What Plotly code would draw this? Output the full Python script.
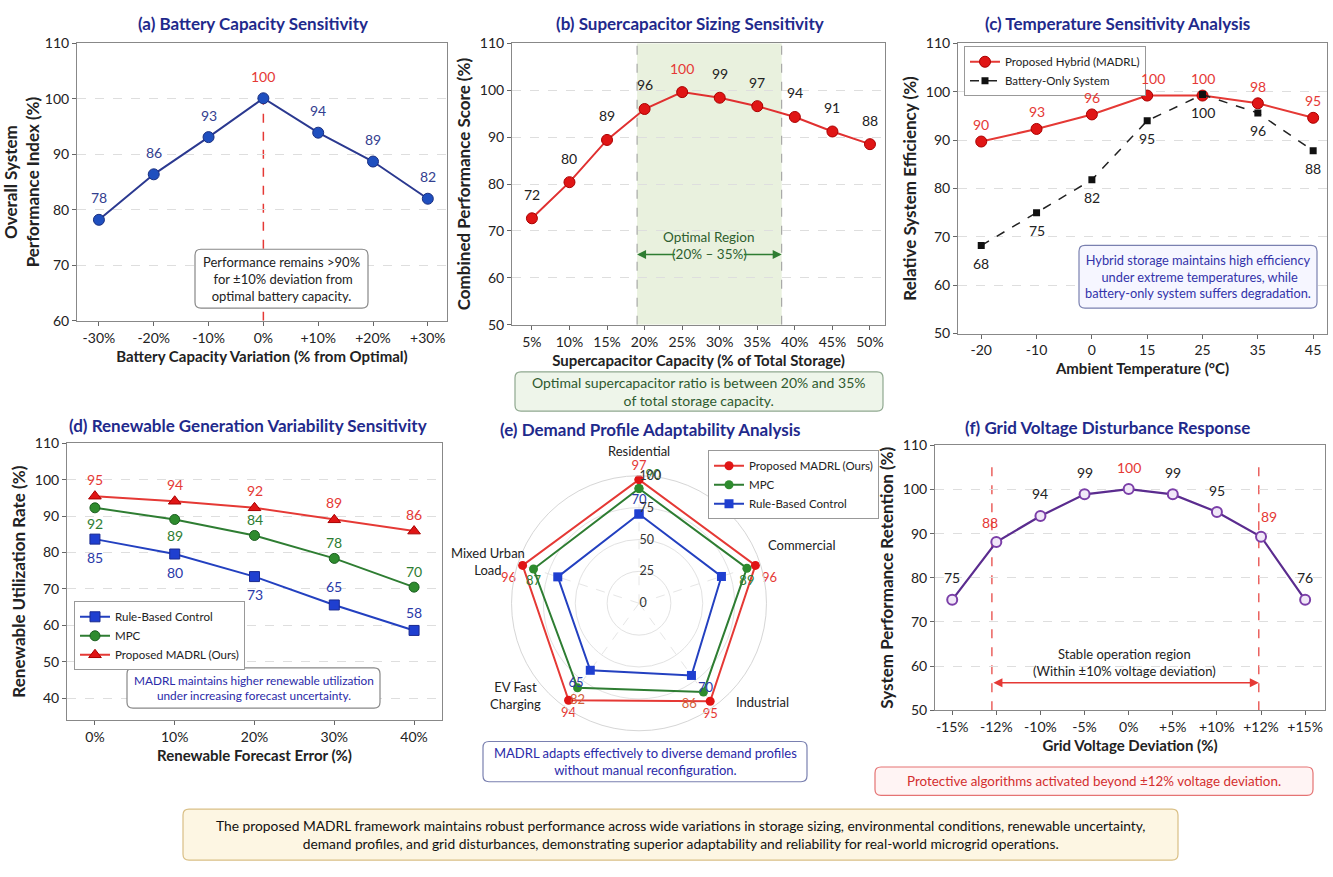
import plotly.graph_objects as go

W, H = 1333, 877
def PX(x): return x / W
def PY(y): return 1 - y / H

FONT = "Lato"
TITLE_C = "#1f2a8c"

# ---------------- data ----------------
a_x = ["-30%", "-20%", "-10%", "0%", "+10%", "+20%", "+30%"]
a_y = [78.2, 86.4, 93.1, 100.1, 93.9, 88.7, 82.0]
a_lbl = ["78", "86", "93", "100", "94", "89", "82"]

b_x = ["5%", "10%", "15%", "20%", "25%", "30%", "35%", "40%", "45%", "50%"]
b_y = [72.7, 80.4, 89.4, 96.0, 99.6, 98.4, 96.6, 94.3, 91.2, 88.5]
b_lbl = ["72", "80", "89", "96", "100", "99", "97", "94", "91", "88"]

c_x = ["-20", "-10", "0", "15", "25", "35", "45"]
c_hyb = [89.7, 92.3, 95.3, 99.2, 99.2, 97.6, 94.6]
c_hyb_lbl = ["90", "93", "96", "100", "100", "98", "95"]
c_bat = [68.2, 75.0, 81.8, 94.0, 99.4, 95.6, 87.8]
c_bat_lbl = ["68", "75", "82", "95", "100", "96", "88"]

d_x = ["0%", "10%", "20%", "30%", "40%"]
d_rule = [83.7, 79.6, 73.4, 65.6, 58.6]
d_rule_lbl = ["85", "80", "73", "65", "58"]
d_mpc = [92.3, 89.1, 84.7, 78.4, 70.5]
d_mpc_lbl = ["92", "89", "84", "78", "70"]
d_madrl = [95.5, 94.1, 92.3, 89.0, 85.9]
d_madrl_lbl = ["95", "94", "92", "89", "86"]

e_cat = ["Residential", "Commercial", "Industrial", "EV Fast<br>Charging", "Mixed Urban<br>Load"]
e_madrl = [97, 96, 95, 94, 96]
e_mpc = [90, 89, 86, 82, 87]
e_rule = [70, 68, 70, 65, 67]
e_madrl_lbl = ["97", "96", "95", "94", "96"]
e_mpc_lbl = ["90", "89", "86", "82", "87"]
e_rule_lbl = ["70", "", "70", "65", ""]

f_x = ["-15%", "-12%", "-10%", "-5%", "0%", "+5%", "+10%", "+12%", "+15%"]
f_y = [75.0, 88.1, 94.0, 98.9, 100.1, 98.9, 94.9, 89.3, 75.0]
f_lbl = ["75", "88", "94", "99", "100", "99", "95", "89", "76"]

RED = "#e53935"
BLUE_A = "#2b3990"
GREEN = "#2e7d32"
BLUE_D = "#2340c0"
PURPLE = "#5b2c8f"

fig = go.Figure()
ann = []
shapes = []

def pann(x, y, text, **kw):
    d = dict(x=PX(x), y=PY(y), xref="paper", yref="paper", showarrow=False, text=text,
             xanchor="center", yanchor="middle")
    d.update(kw)
    ann.append(d)

def dann(i, y, text, xr, yr, **kw):
    d = dict(x=i, y=y, xref=xr, yref=yr, showarrow=False, text=text, xanchor="center",
             yanchor="middle")
    d.update(kw)
    ann.append(d)

def rbox(x0, y0, x1, y1, fill, line, r=6):
    rx, ry = r / W, r / H
    X0, X1 = PX(x0), PX(x1)
    Yt, Yb = PY(y0), PY(y1)
    path = (f"M {X0+rx},{Yt} L {X1-rx},{Yt} Q {X1},{Yt} {X1},{Yt-ry} "
            f"L {X1},{Yb+ry} Q {X1},{Yb} {X1-rx},{Yb} L {X0+rx},{Yb} Q {X0},{Yb} {X0},{Yb+ry} "
            f"L {X0},{Yt-ry} Q {X0},{Yt} {X0+rx},{Yt} Z")
    shapes.append(dict(type="path", xref="paper", yref="paper", path=path, fillcolor=fill,
                       line=dict(color=line, width=1.2), layer="above"))

def textbox(x0, y0, x1, y1, text, size, color, fill, line):
    rbox(x0, y0, x1, y1, fill, line)
    pann((x0 + x1) / 2, (y0 + y1) / 2, text, font=dict(size=size, color=color))

# ---------------- (a) ----------------
fig.add_trace(go.Scatter(x=a_x, y=a_y, mode="lines+markers", xaxis="x", yaxis="y",
    line=dict(color=BLUE_A, width=2),
    marker=dict(size=11, color="#1f4fbf", line=dict(color="#1a2f80", width=1)), showlegend=False))
for i, (yv, t) in enumerate(zip(a_y, a_lbl)):
    dann(i, yv, t, "x", "y", yshift=22, font=dict(size=14, color=RED if t == "100" else "#33408f"))
shapes.append(dict(type="line", xref="x", yref="y", x0=3, x1=3, y0=60, y1=100,
                   line=dict(color=RED, width=1.5, dash="dash"), layer="below"))
textbox(195, 245, 368, 305, "Performance remains >90%<br> for ±10% deviation from<br>optimal battery capacity.",
        13, "#222", "white", "#888")

# ---------------- (b) ----------------
shapes.append(dict(type="rect", xref="x2", yref="y2", x0=2.8, x1=6.65, y0=50, y1=110,
                   fillcolor="#e9f1de", line=dict(width=0), layer="below"))
for xv in (2.8, 6.65):
    shapes.append(dict(type="line", xref="x2", yref="y2", x0=xv, x1=xv, y0=50, y1=110,
                       line=dict(color="#999", width=1, dash="dash"), layer="below"))
fig.add_trace(go.Scatter(x=b_x, y=b_y, mode="lines+markers", xaxis="x2", yaxis="y2",
    line=dict(color="#e03030", width=2),
    marker=dict(size=11, color="#e01515", line=dict(color="#a00", width=1)), showlegend=False))
for i, (yv, t) in enumerate(zip(b_y, b_lbl)):
    dann(i, yv, t, "x2", "y2", yshift=24, font=dict(size=14, color=RED if t == "100" else "#222"))
dann(4.72, 68.8, "Optimal Region", "x2", "y2", font=dict(size=13.5, color="#2e5e2e"))
dann(4.72, 65, "(20% – 35%)", "x2", "y2", font=dict(size=13.5, color="#2e5e2e"))
for head, tail in ((2.8, 3.85), (6.65, 5.6)):
    ann.append(dict(x=head, y=65, ax=tail, ay=65, xref="x2", yref="y2", axref="x2", ayref="y2",
                    text="", showarrow=True, arrowhead=2, arrowsize=1.2, arrowwidth=1.5,
                    arrowcolor="#2e7d32"))
textbox(515, 370, 883, 410, "Optimal supercapacitor ratio is between 20% and 35%<br>of total storage capacity.",
        14, "#2f5a2f", "#eef5ea", "#8fa88f")

# ---------------- (c) ----------------
fig.add_trace(go.Scatter(x=c_x, y=c_hyb, mode="lines+markers", xaxis="x3", yaxis="y3",
    name="Proposed Hybrid (MADRL)", legend="legend",
    line=dict(color=RED, width=2),
    marker=dict(size=11, color="#e01515", line=dict(color="#a00", width=1))))
fig.add_trace(go.Scatter(x=c_x, y=c_bat, mode="lines+markers", xaxis="x3", yaxis="y3",
    name="Battery-Only System", legend="legend",
    line=dict(color="#222", width=1.5, dash="dash"),
    marker=dict(size=7, symbol="square", color="#111")))
for i, (yv, t) in enumerate(zip(c_hyb, c_hyb_lbl)):
    dann(i, yv, t, "x3", "y3", yshift=17, xshift=(6 if i == 3 else 0), font=dict(size=14, color=RED))
for i, (yv, t) in enumerate(zip(c_bat, c_bat_lbl)):
    dann(i, yv, t, "x3", "y3", yshift=-18, font=dict(size=14, color="#222"))
textbox(1079, 241, 1317, 305, "Hybrid storage maintains high efficiency<br> under extreme temperatures, while<br>battery-only system suffers degradation.",
        12.8, "#3333aa", "#f6f6ff", "#7a80b0")

# ---------------- (d) ----------------
fig.add_trace(go.Scatter(x=d_x, y=d_rule, mode="lines+markers", xaxis="x4", yaxis="y4",
    name="Rule-Based Control", legend="legend2",
    line=dict(color=BLUE_D, width=2),
    marker=dict(size=10, symbol="square", color="#1f3fd0", line=dict(color="#1a2a90", width=1))))
fig.add_trace(go.Scatter(x=d_x, y=d_mpc, mode="lines+markers", xaxis="x4", yaxis="y4",
    name="MPC", legend="legend2",
    line=dict(color=GREEN, width=2),
    marker=dict(size=10, color="#2e8b2e", line=dict(color="#1b5e20", width=1))))
fig.add_trace(go.Scatter(x=d_x, y=d_madrl, mode="lines+markers", xaxis="x4", yaxis="y4",
    name="Proposed MADRL (Ours)", legend="legend2",
    line=dict(color=RED, width=2),
    marker=dict(size=11, symbol="triangle-up", color="#e01515", line=dict(color="#a00", width=1))))
rule_shift = [-18, -18, -18, 18, 18]
mpc_shift = [-16, -16, 16, 16, 16]
for i, (yv, t) in enumerate(zip(d_madrl, d_madrl_lbl)):
    dann(i, yv, t, "x4", "y4", yshift=17, font=dict(size=14, color=RED))
for i, (yv, t, s) in enumerate(zip(d_mpc, d_mpc_lbl, mpc_shift)):
    dann(i, yv, t, "x4", "y4", yshift=s, font=dict(size=14, color=GREEN))
for i, (yv, t, s) in enumerate(zip(d_rule, d_rule_lbl, rule_shift)):
    dann(i, yv, t, "x4", "y4", yshift=s, font=dict(size=14, color="#2a3aa8"))
textbox(127, 672, 380, 713, "MADRL maintains higher renewable utilization<br>under increasing forecast uncertainty.",
        11.8, "#2a2aa8", "white", "#888")

# ---------------- (e) ----------------
def closed(v): return list(v) + [v[0]]
fig.add_trace(go.Scatterpolar(r=closed(e_madrl), theta=closed(e_cat), mode="lines+markers+text",
    name="Proposed MADRL (Ours)", legend="legend3", subplot="polar",
    text=list(e_madrl_lbl) + [""],
    textposition=["top center", "bottom right", "bottom center", "bottom center", "bottom left", "top center"],
    textfont=dict(size=13, color=RED),
    line=dict(color=RED, width=2), marker=dict(size=9, color="#e01515")))
fig.add_trace(go.Scatterpolar(r=closed(e_mpc), theta=closed(e_cat), mode="lines+markers+text",
    name="MPC", legend="legend3", subplot="polar",
    text=list(e_mpc_lbl) + [""],
    textposition=["top right", "bottom center", "bottom left", "bottom center", "bottom center", "top center"],
    textfont=dict(size=13, color=["#2e7d32", "#2e7d32", "#d2603a", "#d2603a", "#2e7d32", "#2e7d32"]),
    line=dict(color=GREEN, width=2), marker=dict(size=9, color="#2e8b2e")))
fig.add_trace(go.Scatterpolar(r=closed(e_rule), theta=closed(e_cat), mode="lines+markers+text",
    name="Rule-Based Control", legend="legend3", subplot="polar",
    text=list(e_rule_lbl) + [""],
    textposition=["top center", "bottom center", "bottom right", "bottom left", "bottom center", "top center"],
    textfont=dict(size=13, color="#2a3aa8"),
    line=dict(color=BLUE_D, width=2), marker=dict(size=9, symbol="square", color="#1f3fd0")))
cat_pos = [(639, 451), (802, 547), (762, 707), (515, 700), (488, 563)]
for t, (x, y) in zip(e_cat, cat_pos):
    pann(x, y, t, font=dict(size=13, color="#222"))
textbox(483, 747, 807, 788, "MADRL adapts effectively to diverse demand profiles<br>without manual reconfiguration.",
        13, "#2a2aa8", "white", "#7a80b0")

# ---------------- (f) ----------------
for xv in (0.9, 6.95):
    shapes.append(dict(type="line", xref="x5", yref="y5", x0=xv, x1=xv, y0=50, y1=106,
                       line=dict(color=RED, width=1.2, dash="dash"), layer="below"))
fig.add_trace(go.Scatter(x=f_x, y=f_y, mode="lines+markers", xaxis="x5", yaxis="y5",
    line=dict(color=PURPLE, width=2.2),
    marker=dict(size=10, color="#f1e8f8", line=dict(color="#7b3fa8", width=2)), showlegend=False))
for i, (yv, t) in enumerate(zip(f_y, f_lbl)):
    red = t == "100" or i in (1, 7)
    dann(i, yv, t, "x5", "y5", yshift=22 if i not in (1, 7) else 20,
         xshift=0 if i not in (1, 7) else (-6 if i == 1 else 8),
         font=dict(size=14, color=RED if red else "#222"))
dann(3.9, 60.8, "Stable operation region<br>(Within ±10% voltage deviation)", "x5", "y5",
     font=dict(size=13, color="#222"))
ann.append(dict(x=6.95, y=56.2, ax=0.9, ay=56.2, xref="x5", yref="y5", axref="x5", ayref="y5",
    text="", showarrow=True, arrowhead=2, arrowside="end+start", arrowsize=1.2, arrowwidth=1.5,
    arrowcolor="#e53935"))
textbox(875, 773, 1313, 802, "Protective algorithms activated beyond ±12% voltage deviation.",
        13.4, "#d32f2f", "#fff4f4", "#e57373")

# ---------------- titles ----------------
titles = [
    ("(a) Battery Capacity Sensitivity", 253, 15),
    ("(b) Supercapacitor Sizing Sensitivity", 690, 15),
    ("(c) Temperature Sensitivity Analysis", 1117, 15),
    ("(d) Renewable Generation Variability Sensitivity", 248, 425),
    ("(e) Demand Profile Adaptability Analysis", 650, 429),
    ("(f) Grid Voltage Disturbance Response", 1107, 427),
]
for t, x, y in titles:
    pann(x, y, "<b>" + t + "</b>", font=dict(size=17, color=TITLE_C))

# ---------------- banner ----------------
textbox(183, 816, 1178, 868, "The proposed MADRL framework maintains robust performance across wide variations in storage sizing, environmental conditions, renewable uncertainty,<br>demand profiles, and grid disturbances, demonstrating superior adaptability and reliability for real-world microgrid operations.",
        13.8, "#111", "#fdf6e3", "#d9bf85")

# ---------------- axes ----------------
def xax(cats, dom, rng, title, anchor):
    return dict(domain=dom, anchor=anchor, type="category", categoryorder="array", categoryarray=cats,
                range=rng, showgrid=False, showline=True, mirror=True, linecolor="#888", linewidth=1,
                ticks="outside", ticklen=4, tickcolor="#666", tickfont=dict(size=14, color="#222"),
                title=dict(text="<b>" + title + "</b>", font=dict(size=15, color="#222"), standoff=6),
                zeroline=False)

def yax(dom, rng, title, anchor, dtick=10):
    return dict(domain=dom, anchor=anchor, range=rng, dtick=dtick, tick0=0, showgrid=True,
                gridcolor="#dedede", griddash="dash", showline=True, mirror=True, linecolor="#888",
                linewidth=1, ticks="outside", ticklen=4, tickcolor="#666",
                tickfont=dict(size=14, color="#222"),
                title=dict(text="<b>" + title + "</b>", font=dict(size=17, color="#222"), standoff=4),
                zeroline=False)

layout = dict(
    width=W, height=H, margin=dict(l=0, r=0, t=0, b=0),
    paper_bgcolor="white", plot_bgcolor="white",
    font=dict(family=FONT, color="#222"),
    xaxis=xax(a_x, [PX(77), PX(447)], [-0.4, 6.35], "Battery Capacity Variation (% from Optimal)", "y"),
    yaxis=yax([PY(318), PY(35)], [60, 110], "Overall System<br>Performance Index (%)", "x"),
    xaxis2=xax(b_x, [PX(512), PX(885)], [-0.53, 9.4], "Supercapacitor Capacity (% of Total Storage)", "y2"),
    yaxis2=yax([PY(322), PY(35)], [50, 110], "Combined Performance Score (%)", "x2"),
    xaxis3=xax(c_x, [PX(958), PX(1327)], [-0.42, 6.25], "Ambient Temperature (°C)", "y3"),
    yaxis3=yax([PY(331), PY(35)], [50, 110], "Relative System Efficiency (%)", "x3"),
    xaxis4=xax(d_x, [PX(67), PX(442)], [-0.35, 4.35], "Renewable Forecast Error (%)", "y4"),
    yaxis4=yax([PY(725), PY(443)], [34, 110], "Renewable Utilization Rate (%)", "x4"),
    xaxis5=xax(f_x, [PX(935), PX(1325)], [-0.39, 8.45], "Grid Voltage Deviation (%)", "y5"),
    yaxis5=yax([PY(715), PY(445)], [50, 110], "System Performance Retention (%)", "x5"),
    polar=dict(
        domain=dict(x=[PX(509), PX(769)], y=[PY(736), PY(476)]),
        bgcolor="white",
        radialaxis=dict(range=[0, 100], tickvals=[0, 25, 50, 75, 100], angle=90, tickangle=90,
                        showline=False, gridcolor="#e2e2e2", tickfont=dict(size=12.5, color="#333"),
                        ticks=""),
        angularaxis=dict(direction="clockwise", rotation=90, gridcolor="#e6e6e6", griddash="dash",
                         linecolor="#d6d6d6", showticklabels=False, ticks=""),
    ),
    legend=dict(x=PX(964), y=PY(38), xanchor="left", yanchor="top", bgcolor="white",
                bordercolor="#999", borderwidth=1, font=dict(size=11.5, color="#222"),
                tracegroupgap=0, itemwidth=30),
    legend2=dict(x=PX(74), y=PY(604), xanchor="left", yanchor="top", bgcolor="white",
                 bordercolor="#999", borderwidth=1, font=dict(size=11.5, color="#222"), itemwidth=30),
    legend3=dict(x=PX(708), y=PY(450), xanchor="left", yanchor="top", bgcolor="white",
                 bordercolor="#999", borderwidth=1, font=dict(size=11.5, color="#222"), itemwidth=30),
    annotations=ann, shapes=shapes,
)
fig.update_layout(**layout)
fig.write_html("out.html")
